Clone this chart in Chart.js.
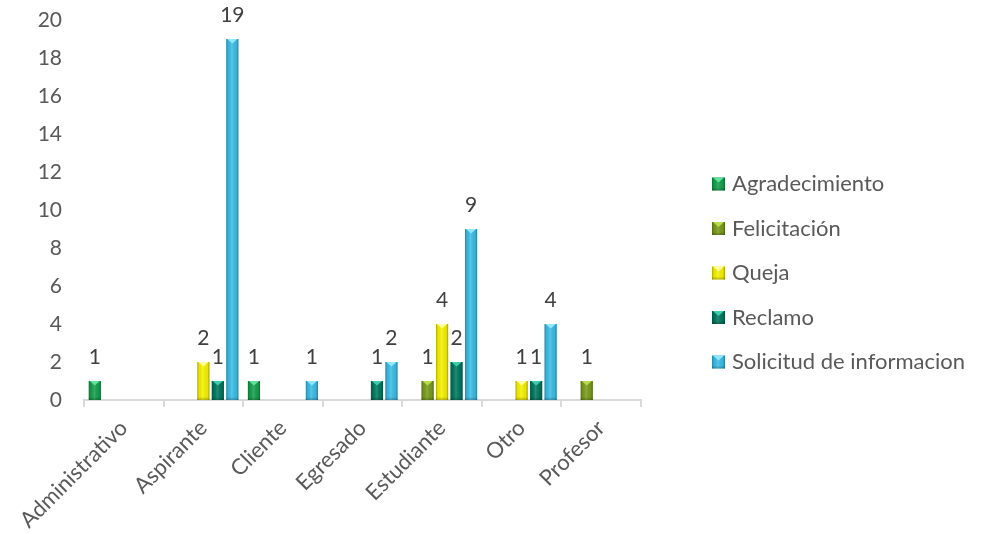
<!DOCTYPE html>
<html>
<head>
<meta charset="utf-8">
<script src="https://cdn.jsdelivr.net/npm/chart.js@4.4.1/dist/chart.umd.min.js"></script>
<style>
  html, body { margin: 0; padding: 0; background: #ffffff; }
  #wrap { width: 997px; height: 534px; position: relative; }
</style>
</head>
<body>
<div id="wrap"><canvas id="chart" width="997" height="534"></canvas></div>
<script>
// Categories (requester type) and counts per request type
const categories = ['Administrativo', 'Aspirante', 'Cliente', 'Egresado', 'Estudiante', 'Otro', 'Profesor'];
const seriesNames = ['Agradecimiento', 'Felicitación', 'Queja', 'Reclamo', 'Solicitud de informacion'];
const agradecimiento = [1, 0, 1, 0, 0, 0, 0];
const felicitacion   = [0, 0, 0, 0, 1, 0, 1];
const queja          = [0, 2, 0, 0, 4, 1, 0];
const reclamo        = [0, 1, 0, 1, 2, 1, 0];
const solicitud      = [0, 19, 1, 2, 9, 4, 0];
const yMin = 0;
const yMax = 20;
const yStep = 2;

const FONT = 'Lato, "Liberation Sans", sans-serif';
const TICK_COLOR = '#595959';
const LABEL_COLOR = '#404040';

// base / light (top bevel) colours per series
const palette = [
  { base: '#14a04c', light: '#5fe39a' },
  { base: '#7a9c1c', light: '#b9dc4a' },
  { base: '#f7f200', light: '#ffffa0' },
  { base: '#00785e', light: '#3ccfae' },
  { base: '#3bbde6', light: '#8fe8ff' }
];

const seriesData = [agradecimiento, felicitacion, queja, reclamo, solicitud];

function drawBevel(ctx, l, t, w, h, pal) {
  if (h <= 0 || w <= 0) return;
  ctx.save();
  const g = ctx.createLinearGradient(l, 0, l + w, 0);
  g.addColorStop(0, 'rgba(0,0,0,0.30)');
  g.addColorStop(0.16, 'rgba(0,0,0,0.06)');
  g.addColorStop(0.45, 'rgba(255,255,255,0.14)');
  g.addColorStop(0.84, 'rgba(0,0,0,0.06)');
  g.addColorStop(1, 'rgba(0,0,0,0.34)');
  ctx.fillStyle = g;
  ctx.fillRect(l, t, w, h);
  // bottom shade
  const gb = ctx.createLinearGradient(0, t + h - 3, 0, t + h);
  gb.addColorStop(0, 'rgba(0,0,0,0)');
  gb.addColorStop(1, 'rgba(0,0,0,0.25)');
  ctx.fillStyle = gb;
  ctx.fillRect(l, t + h - 3, w, 3);
  // top bevel triangle
  const d = Math.min(w * 0.38, h);
  ctx.beginPath();
  ctx.moveTo(l + 1, t);
  ctx.lineTo(l + w - 1, t);
  ctx.lineTo(l + w / 2, t + d);
  ctx.closePath();
  ctx.fillStyle = pal.light;
  ctx.fill();
  ctx.restore();
}

// Bevel shading over each bar
const bevelPlugin = {
  id: 'bevel',
  afterDatasetsDraw(chart) {
    const ctx = chart.ctx;
    chart.data.datasets.forEach((ds, di) => {
      const meta = chart.getDatasetMeta(di);
      if (meta.hidden) return;
      meta.data.forEach((bar, i) => {
        if (!ds.data[i]) return;
        const p = bar.getProps(['x', 'y', 'base', 'width'], true);
        drawBevel(ctx, p.x - p.width / 2, p.y, p.width, p.base - p.y, palette[di]);
      });
    });
  }
};

// Value labels above the bars (zero values are not labelled)
const valueLabelPlugin = {
  id: 'valueLabels',
  afterDatasetsDraw(chart) {
    const ctx = chart.ctx;
    ctx.save();
    ctx.font = '21px ' + FONT;
    ctx.fillStyle = LABEL_COLOR;
    ctx.textAlign = 'center';
    ctx.textBaseline = 'alphabetic';
    chart.data.datasets.forEach((ds, di) => {
      const meta = chart.getDatasetMeta(di);
      meta.data.forEach((bar, i) => {
        const v = ds.data[i];
        if (!v) return;
        const p = bar.getProps(['x', 'y'], true);
        ctx.fillText(String(v), p.x, p.y - 17);
      });
    });
    ctx.restore();
  }
};

// Vertical legend to the right of the plot
const sideLegendPlugin = {
  id: 'sideLegend',
  afterDraw(chart) {
    const ctx = chart.ctx;
    const area = chart.chartArea;
    const boxX = area.right + 71;
    const box = 13;
    const startY = 184;
    const step = 44.5;
    ctx.save();
    ctx.font = '22px ' + FONT;
    ctx.textBaseline = 'middle';
    ctx.textAlign = 'left';
    chart.data.datasets.forEach((ds, di) => {
      const cy = startY + di * step;
      ctx.fillStyle = palette[di].base;
      ctx.fillRect(boxX, cy - box / 2, box, box);
      drawBevel(ctx, boxX, cy - box / 2, box, box, palette[di]);
      ctx.fillStyle = TICK_COLOR;
      ctx.fillText(ds.label, boxX + 20, cy);
    });
    ctx.restore();
  }
};

const datasets = seriesNames.map((name, i) => ({
  label: name,
  data: seriesData[i],
  backgroundColor: palette[i].base,
  borderWidth: 0,
  categoryPercentage: 0.91,
  barPercentage: 0.84
}));

new Chart(document.getElementById('chart'), {
  type: 'bar',
  data: { labels: categories, datasets },
  plugins: [bevelPlugin, valueLabelPlugin, sideLegendPlugin],
  options: {
    responsive: false,
    devicePixelRatio: 1,
    animation: false,
    layout: { padding: { top: 20, left: 0, right: 356, bottom: 0 } },
    plugins: {
      legend: { display: false },
      tooltip: { enabled: false }
    },
    scales: {
      x: {
        grid: {
          display: true,
          drawOnChartArea: false,
          drawTicks: true,
          tickLength: 7,
          color: '#d9d9d9',
          lineWidth: 2
        },
        border: { display: true, color: '#d9d9d9', width: 2 },
        ticks: {
          color: TICK_COLOR,
          font: { family: FONT, size: 22 },
          minRotation: 45,
          maxRotation: 45,
          autoSkip: false,
          padding: 8
        },
        afterFit(scale) { scale.height = 134; }
      },
      y: {
        min: yMin,
        max: yMax,
        grid: { display: false, drawTicks: false },
        border: { display: false },
        ticks: {
          stepSize: yStep,
          color: TICK_COLOR,
          font: { family: FONT, size: 21 },
          padding: 22
        },
        afterFit(scale) {
          scale.width = 84;
          scale.paddingTop = 10;
          scale.paddingBottom = 10;
        }
      }
    }
  }
});
</script>
</body>
</html>
